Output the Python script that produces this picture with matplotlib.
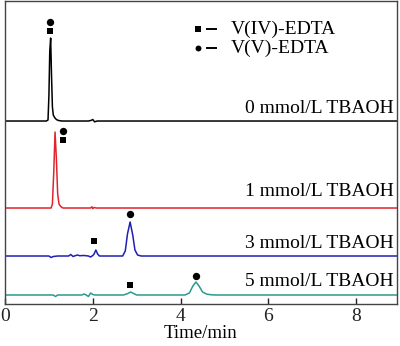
import matplotlib
matplotlib.use("Agg")
import matplotlib.pyplot as plt

plt.rcParams['font.family'] = ['Liberation Serif', 'DejaVu Serif']

# Chromatogram traces (time in min, signal in arbitrary units above baseline)
t0 = [0, 0.94, 0.98, 1.00, 1.02, 1.04, 1.06, 1.08, 1.10, 1.13, 1.17, 1.22, 1.3, 1.9, 1.96, 2.0, 2.04, 2.1, 9]
s0 = [0, 0, 1, 25, 70, 83, 45, 14, 6, 3.5, 1.5, 0.5, 0, 0, 0.6, 1.5, -0.8, 0, 0]

t1 = [0, 1.05, 1.08, 1.11, 1.14, 1.17, 1.20, 1.23, 1.27, 1.32, 1.95, 1.98, 2.0, 2.03, 2.08, 9]
s1 = [0, 0, 4, 35, 76, 50, 14, 4, 1.5, 0, 0, 1.2, -0.6, 0.5, 0, 0]

t3 = [0, 1.0, 1.05, 1.1, 1.2, 1.45, 1.5, 1.55, 1.6, 1.65, 1.7, 1.8, 1.9, 1.95, 2.0, 2.03, 2.07,
      2.11, 2.15, 2.2, 2.68, 2.74, 2.79, 2.85, 2.91, 2.96, 3.02, 3.1, 9]
s3 = [0, 0, -1.5, -0.5, 0, 0, 1.5, -0.5, 0.3, 1.0, 0.3, 0.5, 0, -1, 0.5, 2, 6,
      2, 0, 0, 0, 5, 22, 34, 21, 6, 1, 0, 0]

t5 = [0, 1.1, 1.15, 1.2, 1.3, 1.75, 1.8, 1.85, 1.9, 1.95, 2.0, 2.05, 2.7, 2.8, 2.86, 2.93, 3.0,
      4.1, 4.2, 4.28, 4.35, 4.42, 4.5, 4.6, 4.7, 4.8, 9]
s5 = [0, 0, -1.5, 0, 0, 0, 1, 0, -1.5, 2, 0.5, 0, 0, 1.5, 3, 1.5, 0,
      0, 2, 9, 13, 9, 3, 0.8, 0.2, 0, 0]

offsets = [183, 96, 48, 9]
colors = ['#000000', '#e0242c', '#1f1fb4', '#2a9a8e']
labels = ['0 mmol/L TBAOH', '1 mmol/L TBAOH', '3 mmol/L TBAOH', '5 mmol/L TBAOH']
label_y = [196, 113, 61, 22]

# Peak markers: (time, height) per trace
square_t = [1.03, 1.32, 2.03, 2.85]
square_y = [273, 164, 63, 19]
circle_t = [1.03, 1.32, 2.85, 4.35]
circle_y = [282, 173, 90, 28]

fig = plt.figure(figsize=(4.0, 3.46), dpi=100)
ax = fig.add_axes([0.0125, 0.1214, 0.98, 0.8756])

for t, s, off, c in zip([t0, t1, t3, t5], [s0, s1, s3, s5], offsets, colors):
    ax.plot(t, [v + off for v in s], color=c, lw=1.1)

ax.scatter(square_t, square_y, marker='s', s=24, color='black', zorder=5, linewidths=0)
ax.scatter(circle_t, circle_y, marker='o', s=28, color='black', zorder=5, linewidths=0)

for lab, ly in zip(labels, label_y):
    ax.text(8.85, ly, lab, ha='right', va='center', fontsize=14)

# legend
ax.scatter([4.4], [275], marker='s', s=18, color='black', linewidths=0)
ax.scatter([4.4], [256], marker='o', s=18, color='black', linewidths=0)
ax.plot([4.6, 4.8], [275, 275], color='black', lw=1.4)
ax.plot([4.6, 4.8], [256, 256], color='black', lw=1.4)
ax.text(5.15, 274.5, 'V(IV)-EDTA', ha='left', va='center', fontsize=14)
ax.text(5.15, 255.5, 'V(V)-EDTA', ha='left', va='center', fontsize=14)

ax.set_xlim(0, 8.93)
ax.set_ylim(0, 303)
ax.set_xticks([0, 2, 4, 6, 8])
ax.set_yticks([])
ax.tick_params(axis='x', direction='in', length=4, width=1, labelsize=14, pad=3, colors='#222222')
for sp in ax.spines.values():
    sp.set_color('#444444')
    sp.set_linewidth(1.0)
ax.set_xlabel('Time/min', fontsize=13.5, labelpad=0)

fig.savefig('out.png', dpi=100)
